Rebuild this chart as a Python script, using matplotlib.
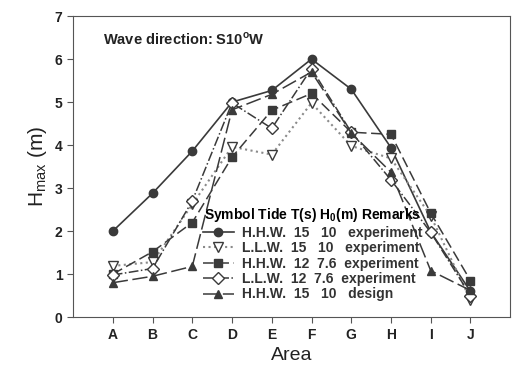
import numpy as np
from matplotlib import pyplot as plt

plt.rcParams['font.family'] = ['Liberation Sans', 'DejaVu Sans']

areas = ['A', 'B', 'C', 'D', 'E', 'F', 'G', 'H', 'I', 'J']

hhw15_exp = [2.0, 2.88, 3.86, 5.0, 5.27, 6.0, 5.3, 3.94, 1.98, 0.6]
llw15_exp = [1.19, 1.28, 2.62, 3.96, 3.78, 4.98, 3.98, 3.69, 2.35, 0.4]
hhw12_exp = [1.0, 1.52, 2.2, 3.72, 4.81, 5.2, 4.3, 4.25, 2.42, 0.85]
llw12_exp = [0.98, 1.13, 2.7, 4.98, 4.39, 5.78, 4.3, 3.19, 1.97, 0.5]
hhw15_des = [0.8, 0.95, 1.18, 4.82, 5.18, 5.7, 4.28, 3.37, 1.08, 0.62]

labels = ['H.H.W.  15   10   experiment',
          'L.L.W.  15   10   experiment',
          'H.H.W.  12  7.6  experiment',
          'L.L.W.  12  7.6  experiment',
          'H.H.W.  15   10   design']

x = np.arange(len(areas))
c = '#3a3a3a'

fig = plt.figure(figsize=(5.18, 3.83), dpi=100)
ax = fig.add_axes([0.141, 0.172, 0.844, 0.786])

ax.plot(x, hhw15_exp, color=c, lw=1.2, ls='-', marker='o', ms=6,
        mfc=c, mec=c, label=labels[0])
ax.plot(x, llw15_exp, color='#8a8a8a', lw=1.5, ls=':', marker='v', ms=7,
        mfc='white', mec=c, label=labels[1])
ax.plot(x, hhw12_exp, color=c, lw=1.1, ls=(0, (7, 3)), marker='s', ms=6,
        mfc=c, mec=c, label=labels[2])
ax.plot(x, llw12_exp, color=c, lw=1.1, ls='-.', marker='D', ms=6,
        mfc='white', mec=c, label=labels[3])
ax.plot(x, hhw15_des, color=c, lw=1.1, ls=(0, (10, 3)), marker='^', ms=6,
        mfc=c, mec=c, label=labels[4])

ax.set_xlim(-1, 10)
ax.set_ylim(0, 7)
ax.set_xticks(x)
ax.set_xticklabels(areas, fontweight='bold', fontsize=10, color='#222222')
ax.set_yticks(range(8))
ax.set_yticklabels([str(v) for v in range(8)], fontweight='bold', fontsize=10,
                   color='#222222')
ax.tick_params(direction='out', length=4, color='#555555')
for s in ax.spines.values():
    s.set_color('#555555')

ax.set_xlabel('Area', fontsize=14, color='#222222')
ax.set_ylabel('H$_{\\mathregular{max}}$ (m)', fontsize=15, color='#222222')

ax.text(0.068, 0.905, 'Wave direction: S10$^{\\mathregular{o}}$W',
        transform=ax.transAxes, fontsize=10.5, fontweight='bold', color='#222222')

leg = ax.legend(loc='lower left', bbox_to_anchor=(0.275, 0.02), frameon=False,
                title='Symbol Tide T(s) H$_{\\mathregular{0}}$(m) Remarks',
                prop={'weight': 'bold', 'size': 10}, handlelength=2.2,
                handletextpad=0.6, labelspacing=0.1, borderpad=0.2)
leg.get_title().set_fontweight('bold')
leg.get_title().set_fontsize(10)
for t in leg.get_texts():
    t.set_color('#333333')

fig.savefig('out.png', dpi=100)
